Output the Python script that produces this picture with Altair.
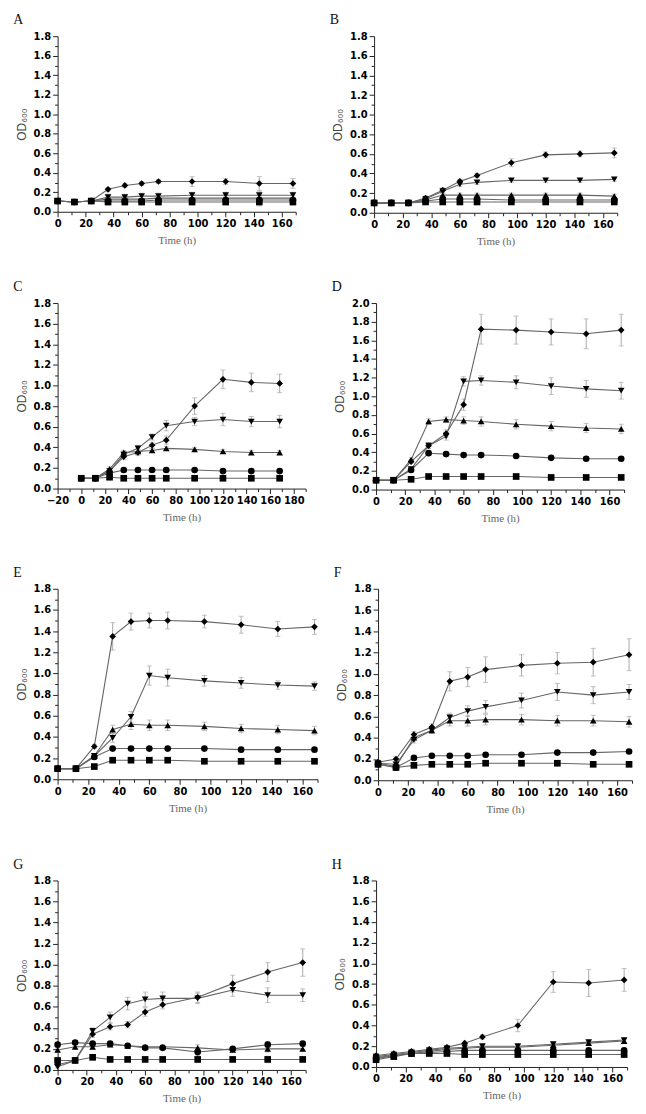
import altair as alt
import pandas as pd

TIME = [0, 12, 24, 36, 48, 60, 72, 96, 120, 144, 168]
SERIES = ["square", "circle", "up", "down", "diamond"]
SHAPES = ["square", "circle", "triangle-up", "triangle-down", "diamond"]

# ---- Panel A ----
A_square = [0.11, 0.10, 0.11, 0.10, 0.10, 0.10, 0.10, 0.10, 0.10, 0.10, 0.10]
A_circle = [0.11, 0.10, 0.11, 0.11, 0.11, 0.11, 0.12, 0.12, 0.12, 0.12, 0.12]
A_up = [0.11, 0.10, 0.11, 0.13, 0.13, 0.13, 0.14, 0.14, 0.14, 0.14, 0.14]
A_down = [0.11, 0.10, 0.11, 0.15, 0.15, 0.16, 0.16, 0.17, 0.17, 0.17, 0.17]
A_diamond = [0.11, 0.10, 0.11, 0.23, 0.27, 0.29, 0.31, 0.31, 0.31, 0.29, 0.29]
A_err_small = [0.01, 0.01, 0.01, 0.03, 0.03, 0.03, 0.03, 0.03, 0.03, 0.04, 0.03]
A_err_diamond = [0.01, 0.01, 0.01, 0.02, 0.02, 0.02, 0.02, 0.05, 0.03, 0.07, 0.05]

# ---- Panel B ----
B_square = [0.10, 0.10, 0.10, 0.11, 0.11, 0.11, 0.11, 0.11, 0.11, 0.11, 0.11]
B_circle = [0.10, 0.10, 0.10, 0.12, 0.14, 0.14, 0.14, 0.13, 0.13, 0.13, 0.13]
B_up = [0.10, 0.10, 0.10, 0.13, 0.18, 0.18, 0.18, 0.18, 0.18, 0.18, 0.17]
B_down = [0.10, 0.10, 0.10, 0.14, 0.22, 0.29, 0.31, 0.33, 0.33, 0.33, 0.34]
B_diamond = [0.10, 0.10, 0.10, 0.15, 0.23, 0.32, 0.38, 0.51, 0.59, 0.60, 0.61]
B_err_small = [0.01, 0.01, 0.01, 0.02, 0.02, 0.02, 0.02, 0.02, 0.02, 0.02, 0.02]
B_err_diamond = [0.01, 0.01, 0.01, 0.02, 0.02, 0.02, 0.02, 0.04, 0.03, 0.03, 0.05]

# ---- Panel C ----
C_square = [0.10, 0.10, 0.11, 0.10, 0.10, 0.10, 0.10, 0.10, 0.10, 0.10, 0.10]
C_circle = [0.10, 0.10, 0.15, 0.18, 0.18, 0.18, 0.18, 0.18, 0.17, 0.17, 0.17]
C_up = [0.10, 0.10, 0.19, 0.35, 0.36, 0.37, 0.39, 0.38, 0.36, 0.35, 0.35]
C_down = [0.10, 0.10, 0.17, 0.33, 0.39, 0.50, 0.61, 0.65, 0.67, 0.65, 0.65]
C_diamond = [0.10, 0.10, 0.17, 0.31, 0.35, 0.42, 0.47, 0.80, 1.06, 1.03, 1.02]
C_err_small = [0.01, 0.01, 0.02, 0.02, 0.02, 0.02, 0.02, 0.02, 0.02, 0.02, 0.02]
C_err_down = [0.01, 0.01, 0.02, 0.03, 0.03, 0.03, 0.05, 0.04, 0.06, 0.05, 0.06]
C_err_diamond = [0.01, 0.01, 0.02, 0.03, 0.03, 0.03, 0.04, 0.08, 0.09, 0.09, 0.09]

# ---- Panel D ----
D_square = [0.10, 0.10, 0.11, 0.14, 0.14, 0.14, 0.14, 0.14, 0.13, 0.13, 0.13]
D_circle = [0.10, 0.10, 0.21, 0.39, 0.38, 0.37, 0.37, 0.36, 0.34, 0.33, 0.33]
D_up = [0.10, 0.10, 0.32, 0.73, 0.75, 0.74, 0.73, 0.70, 0.68, 0.66, 0.65]
D_down = [0.10, 0.10, 0.22, 0.47, 0.57, 1.16, 1.17, 1.15, 1.11, 1.08, 1.06]
D_diamond = [0.10, 0.10, 0.30, 0.47, 0.60, 0.91, 1.72, 1.71, 1.69, 1.67, 1.71]
D_err_small = [0.01, 0.01, 0.02, 0.02, 0.02, 0.02, 0.02, 0.02, 0.02, 0.02, 0.02]
D_err_up = [0.01, 0.01, 0.02, 0.03, 0.03, 0.04, 0.05, 0.05, 0.05, 0.05, 0.05]
D_err_down = [0.01, 0.01, 0.02, 0.03, 0.04, 0.05, 0.05, 0.07, 0.09, 0.09, 0.09]
D_err_diamond = [0.01, 0.01, 0.02, 0.03, 0.04, 0.06, 0.16, 0.15, 0.14, 0.16, 0.17]

# ---- Panel E ----
E_square = [0.10, 0.10, 0.12, 0.18, 0.18, 0.18, 0.18, 0.17, 0.17, 0.17, 0.17]
E_circle = [0.10, 0.10, 0.21, 0.29, 0.29, 0.29, 0.29, 0.29, 0.28, 0.28, 0.28]
E_up = [0.10, 0.10, 0.22, 0.47, 0.52, 0.51, 0.51, 0.50, 0.48, 0.47, 0.46]
E_down = [0.10, 0.10, 0.22, 0.39, 0.59, 0.98, 0.96, 0.93, 0.91, 0.89, 0.88]
E_diamond = [0.10, 0.10, 0.31, 1.35, 1.49, 1.50, 1.50, 1.49, 1.46, 1.42, 1.44]
E_err_small = [0.01, 0.01, 0.02, 0.02, 0.02, 0.02, 0.02, 0.02, 0.02, 0.02, 0.02]
E_err_up = [0.01, 0.01, 0.02, 0.04, 0.05, 0.05, 0.05, 0.04, 0.04, 0.04, 0.04]
E_err_down = [0.01, 0.01, 0.02, 0.04, 0.05, 0.09, 0.08, 0.05, 0.05, 0.04, 0.04]
E_err_diamond = [0.01, 0.01, 0.02, 0.13, 0.08, 0.07, 0.08, 0.06, 0.08, 0.07, 0.07]

# ---- Panel F ----
F_square = [0.15, 0.12, 0.14, 0.15, 0.15, 0.15, 0.16, 0.16, 0.16, 0.15, 0.15]
F_circle = [0.15, 0.12, 0.21, 0.23, 0.23, 0.23, 0.24, 0.24, 0.26, 0.26, 0.27]
F_up = [0.16, 0.13, 0.40, 0.47, 0.56, 0.56, 0.57, 0.57, 0.56, 0.56, 0.55]
F_down = [0.16, 0.15, 0.38, 0.47, 0.59, 0.65, 0.69, 0.75, 0.83, 0.80, 0.83]
F_diamond = [0.17, 0.20, 0.43, 0.50, 0.93, 0.97, 1.04, 1.08, 1.10, 1.11, 1.18]
F_err_small = [0.02, 0.02, 0.02, 0.02, 0.02, 0.02, 0.02, 0.02, 0.02, 0.02, 0.02]
F_err_up = [0.02, 0.02, 0.03, 0.03, 0.05, 0.05, 0.05, 0.05, 0.05, 0.05, 0.05]
F_err_down = [0.02, 0.02, 0.03, 0.03, 0.04, 0.05, 0.06, 0.07, 0.08, 0.08, 0.07]
F_err_diamond = [0.02, 0.02, 0.03, 0.03, 0.09, 0.09, 0.12, 0.10, 0.10, 0.13, 0.15]

# ---- Panel G ----
G_square = [0.09, 0.09, 0.12, 0.10, 0.10, 0.10, 0.10, 0.10, 0.10, 0.10, 0.10]
G_circle = [0.24, 0.26, 0.25, 0.25, 0.23, 0.21, 0.21, 0.17, 0.20, 0.24, 0.25]
G_up = [0.19, 0.22, 0.22, 0.24, 0.23, 0.22, 0.22, 0.21, 0.19, 0.20, 0.20]
G_down = [0.03, 0.09, 0.37, 0.50, 0.63, 0.67, 0.68, 0.68, 0.76, 0.71, 0.71]
G_diamond = [0.05, 0.09, 0.34, 0.41, 0.43, 0.55, 0.62, 0.69, 0.82, 0.93, 1.02]
G_err_small = [0.02, 0.02, 0.02, 0.02, 0.02, 0.02, 0.02, 0.03, 0.02, 0.03, 0.02]
G_err_down = [0.01, 0.02, 0.03, 0.05, 0.06, 0.07, 0.06, 0.05, 0.06, 0.07, 0.06]
G_err_diamond = [0.01, 0.02, 0.03, 0.03, 0.03, 0.04, 0.04, 0.05, 0.08, 0.09, 0.13]

# ---- Panel H ----
H_square = [0.07, 0.10, 0.13, 0.13, 0.13, 0.12, 0.12, 0.12, 0.12, 0.12, 0.12]
H_circle = [0.08, 0.11, 0.13, 0.14, 0.15, 0.16, 0.16, 0.16, 0.16, 0.16, 0.16]
H_up = [0.09, 0.11, 0.13, 0.15, 0.17, 0.18, 0.19, 0.19, 0.21, 0.23, 0.25]
H_down = [0.10, 0.12, 0.14, 0.16, 0.18, 0.19, 0.20, 0.20, 0.22, 0.24, 0.26]
H_diamond = [0.11, 0.13, 0.15, 0.17, 0.19, 0.23, 0.29, 0.40, 0.82, 0.81, 0.84]
H_err_small = [0.02, 0.02, 0.02, 0.02, 0.02, 0.02, 0.02, 0.02, 0.02, 0.02, 0.02]
H_err_diamond = [0.02, 0.02, 0.02, 0.02, 0.02, 0.02, 0.02, 0.06, 0.10, 0.13, 0.11]

PANELS = {
    "A": ([A_square, A_circle, A_up, A_down, A_diamond],
          [A_err_small, A_err_small, A_err_small, A_err_small, A_err_diamond]),
    "B": ([B_square, B_circle, B_up, B_down, B_diamond],
          [B_err_small, B_err_small, B_err_small, B_err_small, B_err_diamond]),
    "C": ([C_square, C_circle, C_up, C_down, C_diamond],
          [C_err_small, C_err_small, C_err_small, C_err_down, C_err_diamond]),
    "D": ([D_square, D_circle, D_up, D_down, D_diamond],
          [D_err_small, D_err_small, D_err_up, D_err_down, D_err_diamond]),
    "E": ([E_square, E_circle, E_up, E_down, E_diamond],
          [E_err_small, E_err_small, E_err_up, E_err_down, E_err_diamond]),
    "F": ([F_square, F_circle, F_up, F_down, F_diamond],
          [F_err_small, F_err_small, F_err_up, F_err_down, F_err_diamond]),
    "G": ([G_square, G_circle, G_up, G_down, G_diamond],
          [G_err_small, G_err_small, G_err_small, G_err_down, G_err_diamond]),
    "H": ([H_square, H_circle, H_up, H_down, H_diamond],
          [H_err_small, H_err_small, H_err_small, H_err_small, H_err_diamond]),
}

Y_MAX = {"A": 1.8, "B": 1.8, "C": 1.8, "D": 2.0, "E": 1.8, "F": 1.8, "G": 1.8, "H": 1.8}
X_DOMAIN = {k: [0, 170] for k in "ABDEFGH"}
X_DOMAIN["C"] = [-20, 190]

SIZES = {
    "A": (240, 177), "B": (245, 178),
    "C": (250, 187), "D": (250, 188),
    "E": (262, 192), "F": (256, 193),
    "G": (250, 191), "H": (253, 188),
}

LABEL_FONT = "DejaVu Sans"
TITLE_SANS = "Liberation Sans"
SERIF = "Liberation Serif"


def make_df(letter):
    vals, errs = PANELS[letter]
    rows = []
    for s, v, e in zip(SERIES, vals, errs):
        for t, y, d in zip(TIME, v, e):
            rows.append({"time": t, "od": y, "lo": max(y - d, 0), "hi": y + d, "series": s})
    return pd.DataFrame(rows)


def panel(letter):
    df = make_df(letter)
    w, h = SIZES[letter]
    x0, x1 = X_DOMAIN[letter]
    ymax = Y_MAX[letter]
    xvals = list(range(x0, x1 + 1, 10))
    yvals = [round(i * 0.1, 1) for i in range(int(round(ymax * 10)) + 1)]

    xaxis = alt.Axis(
        title="Time (h)", values=xvals,
        labelExpr="datum.value % 20 === 0 ? datum.label : ''",
        tickSize={"condition": {"test": "datum.value % 20 === 0", "value": 5}, "value": 3},
        labelFont=LABEL_FONT, labelFontWeight="bold", labelFontSize=10, labelColor="#000",
        titleFont=SERIF, titleFontWeight="normal", titleFontSize=11, titleColor="#666",
        titlePadding=6, labelPadding=2, grid=False, domainColor="#222", tickColor="#222",
        labelFlush=False, labelOverlap=False,
    )
    yaxis = alt.Axis(
        title="OD₆₀₀", values=yvals, format=".1f",
        labelExpr="round(datum.value * 10) % 2 === 0 ? datum.label : ''",
        tickSize={"condition": {"test": "round(datum.value * 10) % 2 === 0", "value": 5}, "value": 3},
        labelFont=LABEL_FONT, labelFontWeight="bold", labelFontSize=10, labelColor="#000",
        titleFont=TITLE_SANS, titleFontWeight="normal", titleFontSize=12, titleColor="#444",
        titlePadding=5, labelPadding=2, grid=False, domainColor="#222", tickColor="#222",
        labelFlush=False, labelOverlap=False,
    )
    xs = alt.Scale(domain=[x0, x1], nice=False, zero=False)
    ys = alt.Scale(domain=[0, ymax], nice=False)

    base = alt.Chart(df)
    X = alt.X("time:Q", scale=xs, axis=xaxis)
    err_rule = base.mark_rule(color="#aaaaaa", strokeWidth=1).encode(
        x=X, y=alt.Y("lo:Q", scale=ys, axis=yaxis), y2="hi:Q")
    err_lo = base.mark_tick(orient="horizontal", color="#aaaaaa", size=5, thickness=1).encode(
        x=X, y=alt.Y("lo:Q", scale=ys, axis=yaxis))
    err_hi = base.mark_tick(orient="horizontal", color="#aaaaaa", size=5, thickness=1).encode(
        x=X, y=alt.Y("hi:Q", scale=ys, axis=yaxis))
    line = base.mark_line(color="#666666", strokeWidth=1.1).encode(
        x=X, y=alt.Y("od:Q", scale=ys, axis=yaxis), detail="series:N")
    pts = base.mark_point(filled=True, color="black", opacity=1, size=45).encode(
        x=X, y=alt.Y("od:Q", scale=ys, axis=yaxis),
        shape=alt.Shape("series:N", scale=alt.Scale(domain=SERIES, range=SHAPES), legend=None))

    return alt.layer(err_rule, err_lo, err_hi, line, pts).properties(
        width=w, height=h,
        title=alt.TitleParams(letter, anchor="start", frame="bounds", font=SERIF,
                              fontSize=14, fontWeight="normal", color="#111", dx=-2, offset=4),
    )


rows = []
for left, right, sp in [("A", "B", 33), ("C", "D", 25), ("E", "F", 15), ("G", "H", 25)]:
    rows.append(alt.hconcat(panel(left), panel(right), spacing=sp))

# uneven gaps between rows, as in the reference
chart = alt.vconcat(
    rows[0],
    alt.vconcat(rows[1], alt.vconcat(rows[2], rows[3], spacing=44), spacing=43),
    spacing=34,
).properties(padding={"left": 5, "top": 1, "right": 5, "bottom": 5}).configure_view(stroke=None)

chart.save("out.html", embed_options={"renderer": "svg", "actions": False})
